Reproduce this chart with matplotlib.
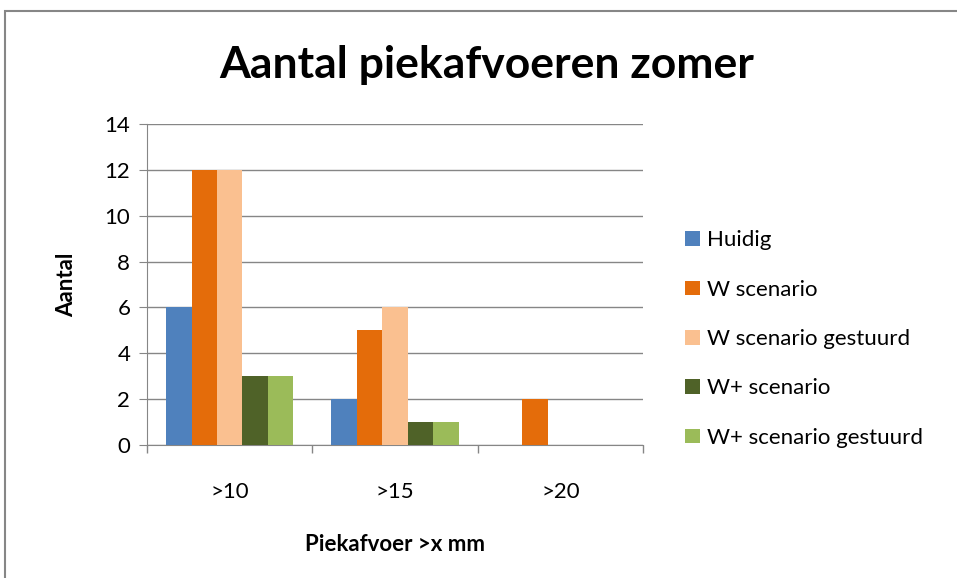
import numpy as np
import matplotlib.pyplot as plt
from matplotlib.patches import Rectangle

# Data
categories = ['>10', '>15', '>20']
series_names = ['Huidig', 'W scenario', 'W scenario gestuurd', 'W+ scenario', 'W+ scenario gestuurd']
huidig = [6, 2, 0]
w_scen = [12, 5, 2]
w_scen_gest = [12, 6, 0]
wplus_scen = [3, 1, 0]
wplus_scen_gest = [3, 1, 0]
colors = ['#4F81BD', '#E46C0A', '#FAC090', '#4F6228', '#9BBB59']

plt.rcParams['font.family'] = ['Lato', 'DejaVu Sans']

fig = plt.figure(figsize=(9.57, 5.78), dpi=100)
ax = fig.add_axes([147/957, 1-445/578, 496/957, 321/578])

values = [huidig, w_scen, w_scen_gest, wplus_scen, wplus_scen_gest]
x = np.arange(len(categories))
bw = 1/6.5
for i, (name, vals) in enumerate(zip(series_names, values)):
    ax.bar(x + (i - 2)*bw, vals, width=bw, color=colors[i], label=name, zorder=3)

ax.set_xlim(-0.5, len(categories) - 0.5)
ax.set_ylim(0, 14)
ax.set_yticks(range(0, 15, 2))
ax.yaxis.grid(True, color='#868686', linewidth=1, zorder=0)
ax.set_xticks(x)
ax.set_xticklabels(categories, fontsize=16)
ax.set_xticks(np.arange(-0.5, len(categories), 1), minor=True)
ax.tick_params(axis='x', which='major', length=0, pad=27)
ax.tick_params(axis='x', which='minor', length=6, color='#868686', width=1)
ax.tick_params(axis='y', length=6, color='#868686', labelsize=16, pad=6)
for s in ['top', 'right']:
    ax.spines[s].set_visible(False)
for s in ['left', 'bottom']:
    ax.spines[s].set_color('#868686')

ax.set_ylabel('Aantal', fontsize=16, fontweight='bold', labelpad=20)
ax.set_xlabel('Piekafvoer >x mm', fontsize=16, fontweight='bold', labelpad=23)
fig.text(487/957, 1-65/578, 'Aantal piekafvoeren zomer', fontsize=32, fontweight='bold',
         ha='center', va='center')

leg = ax.legend(loc='center left', bbox_to_anchor=(1.085, 0.33), frameon=False, fontsize=16,
                handlelength=0.65, handleheight=0.65, handletextpad=0.35, labelspacing=1.32,
                borderaxespad=0, borderpad=0)

# outer chart border (top and left visible)
fig.add_artist(Rectangle((5/957, -0.1), 1.2, 1.1 - 11/578, transform=fig.transFigure,
                         fill=False, edgecolor='#868686', linewidth=1.5))

fig.savefig('out.png', dpi=100)
